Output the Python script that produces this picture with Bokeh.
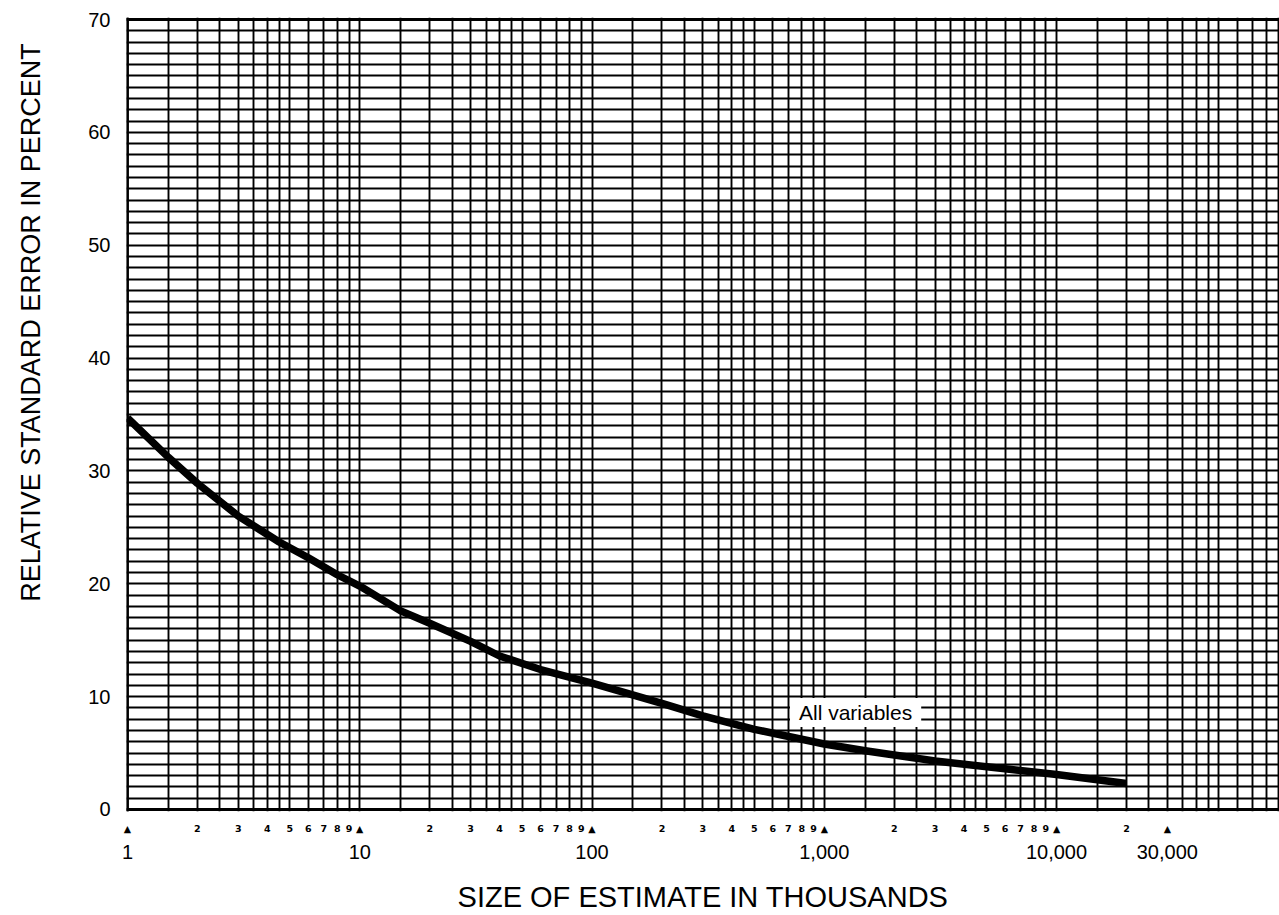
import math
from bokeh.plotting import figure
from bokeh.layouts import row
from bokeh.models import LogAxis, LinearAxis, FixedTicker, Grid, Label
from bokeh.core.properties import value
from bokeh.embed import file_html
from bokeh.resources import INLINE

# ---- data ----
size_thousands = [1, 1.5, 2, 3, 4.5, 6, 8, 10, 15, 20, 30, 40, 60, 100, 200, 300,
                  500, 1000, 1500, 3000, 6000, 10000, 20000]
rel_std_error = [34.7, 31.2, 28.9, 26.0, 23.7, 22.3, 20.8, 19.8, 17.6, 16.5, 14.9, 13.6,
                 12.4, 11.2, 9.4, 8.3, 7.1, 5.8, 5.2, 4.3, 3.6, 3.1, 2.3]
series_label = "All variables"

y_ticks = [0, 10, 20, 30, 40, 50, 60, 70]
y_grid_ticks = list(range(0, 71))

decades = [1, 10, 100, 1000, 10000]
grid_multipliers = [1, 1.5, 2, 2.5, 3, 3.5, 4, 4.5, 5, 6, 7, 8, 9]
x_grid_ticks = [m * d for d in decades for m in grid_multipliers]

major_x_ticks = [1, 10, 100, 1000, 10000, 30000]
major_x_labels = ["1", "10", "100", "1,000", "10,000", "30,000"]

minor_x_ticks = [1, 2, 3, 4, 5, 6, 7, 8, 9,
                 10, 20, 30, 40, 50, 60, 70, 80, 90,
                 100, 200, 300, 400, 500, 600, 700, 800, 900,
                 1000, 2000, 3000, 4000, 5000, 6000, 7000, 8000, 9000,
                 10000, 20000, 30000]
minor_x_labels = ["▲", "2", "3", "4", "5", "6", "7", "8", "9",
                  "▲", "2", "3", "4", "5", "6", "7", "8", "9",
                  "▲", "2", "3", "4", "5", "6", "7", "8", "9",
                  "▲", "2", "3", "4", "5", "6", "7", "8", "9",
                  "▲", "2", "▲"]

x_title = "SIZE OF ESTIMATE IN THOUSANDS"
y_title = "RELATIVE STANDARD ERROR IN PERCENT"

FONT = "Liberation Sans"
TOTAL_W, TOTAL_H = 1279, 915
TITLE_W = 60
FRAME_TOP, FRAME_BOTTOM = 17, 811

# ---- narrow strip holding the vertical axis title (pixel-space ranges) ----
t = figure(width=TITLE_W, height=TOTAL_H, x_range=(0, TITLE_W),
           y_range=(FRAME_BOTTOM, FRAME_TOP),
           x_axis_location=None, y_axis_location=None,
           output_backend="svg", toolbar_location=None,
           min_border_left=0, min_border_right=0,
           min_border_top=FRAME_TOP, min_border_bottom=TOTAL_H - FRAME_BOTTOM)
t.outline_line_color = None
t.xgrid.visible = False
t.ygrid.visible = False
t.background_fill_color = "white"
t.border_fill_color = "white"
t.text(x=[30], y=[322], text=[y_title], angle=math.pi / 2,
       text_align="center", text_baseline="alphabetic",
       text_font=value(FONT), text_font_size="27px", text_color="black")

# ---- main chart ----
p = figure(width=TOTAL_W - TITLE_W, height=TOTAL_H, x_axis_type="log",
           x_range=(0.99, 91200), y_range=(-0.18, 70.18),
           x_axis_location=None, y_axis_location=None,
           output_backend="svg", toolbar_location=None,
           min_border_left=126 - TITLE_W, min_border_right=0,
           min_border_top=FRAME_TOP, min_border_bottom=TOTAL_H - FRAME_BOTTOM)
p.background_fill_color = "white"
p.border_fill_color = "white"
p.outline_line_color = None

xg = Grid(dimension=0, ticker=FixedTicker(ticks=x_grid_ticks),
          grid_line_color="black", grid_line_width=1.9)
yg = Grid(dimension=1, ticker=FixedTicker(ticks=y_grid_ticks),
          grid_line_color="black", grid_line_width=1.9)
p.add_layout(xg)
p.add_layout(yg)
border_x = Grid(dimension=0, ticker=FixedTicker(ticks=[1]),
                grid_line_color="black", grid_line_width=2.8)
border_y = Grid(dimension=1, ticker=FixedTicker(ticks=[0, 70]),
                grid_line_color="black", grid_line_width=2.8)
p.add_layout(border_x)
p.add_layout(border_y)

p.line(size_thousands, rel_std_error, line_color="black", line_width=7.5,
       line_join="round", line_cap="butt")

lab = Label(x=1364, y=8.6, text=series_label, text_align="center",
            text_baseline="middle", text_font=FONT, text_font_size="21px",
            text_color="black", background_fill_color="white",
            padding=dict(left=9, right=9, top=3, bottom=3))
p.add_layout(lab)

yax = LinearAxis(ticker=FixedTicker(ticks=y_ticks))
yax.axis_line_color = None
yax.major_tick_line_color = None
yax.minor_tick_line_color = None
yax.major_tick_out = 0
yax.major_tick_in = 0
yax.major_label_standoff = 16
yax.major_label_text_font = FONT
yax.major_label_text_font_size = "20px"
yax.major_label_text_color = "black"
p.add_layout(yax, "left")

ax1 = LogAxis(ticker=FixedTicker(ticks=minor_x_ticks))
ax1.major_label_overrides = {tk: s for tk, s in zip(minor_x_ticks, minor_x_labels)}
ax2 = LogAxis(ticker=FixedTicker(ticks=major_x_ticks))
ax2.major_label_overrides = {tk: s for tk, s in zip(major_x_ticks, major_x_labels)}
for ax in (ax1, ax2):
    ax.axis_line_color = None
    ax.major_tick_line_color = None
    ax.minor_tick_line_color = None
    ax.major_tick_out = 0
    ax.major_tick_in = 0
    ax.major_label_text_color = "black"
ax1.major_label_standoff = 11
ax1.major_label_text_font = "DejaVu Sans"
ax1.major_label_text_font_size = "9.5px"
ax1.major_label_text_font_style = "bold"
ax2.major_label_standoff = 8
ax2.major_label_text_font = FONT
ax2.major_label_text_font_size = "20px"
ax2.axis_label = x_title
ax2.axis_label_text_font = FONT
ax2.axis_label_text_font_size = "29px"
ax2.axis_label_text_font_style = "normal"
ax2.axis_label_text_color = "black"
ax2.axis_label_standoff = 19
p.add_layout(ax1, "below")
p.add_layout(ax2, "below")

layout = row(t, p, spacing=0)
open("out.html", "w").write(file_html(layout, INLINE))
